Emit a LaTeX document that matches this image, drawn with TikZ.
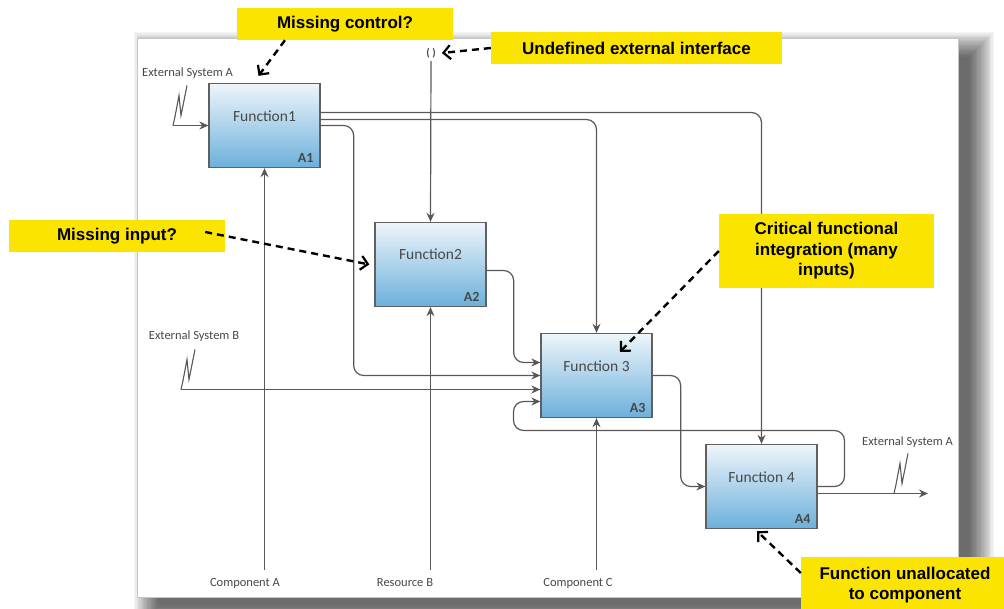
\documentclass[tikz,border=0pt]{standalone}
\usepackage{fontspec}
\setmainfont{Carlito}
\newfontfamily\calloutfont{Liberation Sans}
\usetikzlibrary{arrows.meta,calc}

\definecolor{wirec}{RGB}{88,88,88}
\definecolor{note}{RGB}{250,228,0}
\definecolor{boxtop}{RGB}{238,245,250}
\definecolor{boxbot}{RGB}{108,176,219}
\definecolor{boxline}{RGB}{96,96,96}
\definecolor{labelgray}{RGB}{72,72,72}

\begin{document}
\begin{tikzpicture}[x=1pt,y=-1pt,
  fn/.style={draw=boxline, line width=1.3pt, top color=boxtop, bottom color=boxbot,
             minimum width=111pt, minimum height=84pt, inner sep=0pt},
  fname/.style={text=labelgray, font=\fontsize{15.5}{17}\selectfont, inner sep=0pt},
  fid/.style={text=labelgray, font=\fontsize{14}{16}\selectfont\bfseries, inner sep=0pt, anchor=south east},
  tag/.style={text=labelgray, font=\fontsize{12.5}{14}\selectfont, inner sep=0pt},
  wire/.style={draw=wirec, line width=1.2pt, rounded corners=10pt, -{Stealth[length=9pt,width=8pt]}},
  zigline/.style={draw=wirec, line width=1.1pt},
  callout/.style={fill=note, inner sep=0pt, align=center, text=black,
                  font=\calloutfont\bfseries\fontsize{17}{20.5}\selectfont},
  pointer/.style={draw=black, line width=2.4pt, dash pattern=on 7pt off 5pt,
                  -{Straight Barb[length=7pt,width=14pt,line width=2.2pt]}},
  zigzag/.pic={\draw[zigline] (0,0) -- (2,-9) -- (6,-30) -- (8,-10) -- (14,-40);}
]
\useasboundingbox (0,0) rectangle (1004,609);
\fill[white] (0,0) rectangle (1004,609);

% sheet with a soft shadow falling to the lower right
\foreach \i in {1,...,20}
  \fill[black, opacity=0.04] ({160-1.3*\i},{58-1.3*\i}) rectangle ({968+1.3*\i},{604+1.3*\i});
\fill[white] (137,38) rectangle (958,597);
\draw[gray!45, line width=0.5pt] (137,38) rectangle (958,597);

% activity boxes
\node[fn] (A1) at (264.5,125.5) {};
\node[fn] (A2) at (430.5,264.5) {};
\node[fn] (A3) at (596.5,375.5) {};
\node[fn] (A4) at (761.5,486.5) {};

\node[fname] (A1n) at ([yshift=-33pt]A1.north) {Function1};
\node[fname] (A2n) at ([yshift=-32pt]A2.north) {Function2};
\node[fname] (A3n) at ([yshift=-33pt]A3.north) {Function 3};
\node[fname] (A4n) at ([yshift=-33pt]A4.north) {Function 4};

\node[fid] (A1i) at ([xshift=-7pt,yshift=5pt]A1.south east) {A1};
\node[fid] (A2i) at ([xshift=-7pt,yshift=5pt]A2.south east) {A2};
\node[fid] (A3i) at ([xshift=-7pt,yshift=5pt]A3.south east) {A3};
\node[fid] (A4i) at ([xshift=-7pt,yshift=5pt]A4.south east) {A4};

% boundary labels
\node[tag] (tExtA) at (187.5,73) {External System A};
\node[tag] (tExtB) at (194,336) {External System B};
\node[tag] (tExtO) at (907.5,442) {External System A};
\node[tag] (tCA) at (245,583) {Component A};
\node[tag] (tRB) at (405,583) {Resource B};
\node[tag] (tCC) at (578,583) {Component C};
\node[tag, font=\fontsize{11}{12}\selectfont\bfseries] (ifc) at (431,53) {( )};

% free ends of boundary arrows
\coordinate (sqA) at (173,125.5);
\coordinate (sqB) at (181,389.5);
\coordinate (sqO) at (894,493.5);
\coordinate (outA) at (928,493.5);
\coordinate (inCA) at (264.5,570);
\coordinate (inRB) at (430.5,570);
\coordinate (inCC) at (596.5,570);
\coordinate (loopR) at (844.5,430.5);
\coordinate (loopL) at (513.5,430.5);

% tunnelled boundary arrows
\pic at (sqA) {zigzag};
\pic at (sqB) {zigzag};
\pic at (sqO) {zigzag};
\draw[wire] (sqA) -- (A1.west);
\draw[wire] (sqB) -- ([yshift=-14pt]A3.west);
\draw[wire] ([yshift=-7pt]A4.east) -- (outA);

% controls and mechanisms
\draw[wire, shorten <=3pt] (ifc.south) -- (A2.north);
\draw[wire] (inCA) -- (A1.south);
\draw[wire] (inRB) -- (A2.south);
\draw[wire] (inCC) -- (A3.south);

% flows between functions
\draw[wire] ([yshift=13pt]A1.east) -| (A4.north);
\draw[wire] ([yshift=6pt]A1.east) -| (A3.north);
\draw[wire] (A1.east) -- ++(33,0) |- (A3.west);
\draw[wire] ([yshift=-6pt]A2.east) -- ++(27,0) |- ([yshift=13pt]A3.west);
\draw[wire] (A3.east) -- ++(28,0) |- (A4.west);
\draw[wire] (A4.east) -| (loopR) -- (loopL) |- ([yshift=-26pt]A3.west);

% review notes
\node[callout, minimum width=216pt, minimum height=32pt] (mc) at (345,24) {Missing control?};
\node[callout, minimum width=291pt, minimum height=32pt] (uei) at (636.5,48) {Undefined external interface};
\node[callout, minimum width=216pt, minimum height=32pt] (mi) at (117,236) {Missing input?};
\node[callout, minimum width=215pt, minimum height=74pt] (cfi) at (826.5,251) {Critical functional\\integration (many\\inputs)};
\node[callout, minimum width=208pt, minimum height=56pt] (fuc) at (905,585) {Function unallocated\\to component};

\draw[pointer] ([xshift=-60pt]mc.south) -- ([xshift=-6pt,yshift=7pt]A1.north);
\draw[pointer] (uei.west) -- ([xshift=6pt]ifc.east);
\draw[pointer] ([xshift=-20pt,yshift=4pt]mi.east) -- ([xshift=-5pt]A2.west);
\draw[pointer] (cfi.west) -- ([xshift=23.5pt,yshift=-19pt]A3.north);
\draw[pointer] ([yshift=12pt]fuc.west) -- ([xshift=-4.5pt,yshift=-2pt]A4.south);
\end{tikzpicture}
\end{document}
